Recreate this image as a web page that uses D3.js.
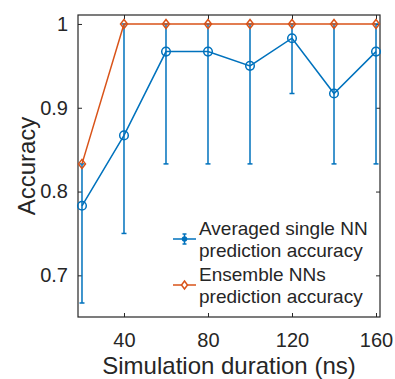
<!DOCTYPE html>
<html>
<head>
<meta charset="utf-8">
<script src="https://cdn.jsdelivr.net/npm/d3@7"></script>
<style>
  body { margin: 0; background: #fff; }
  svg text { font-family: "Liberation Sans", Arial, Helvetica, sans-serif; fill: #262626; }
</style>
</head>
<body>
<svg width="395" height="379"></svg>
<script>
// simulation durations (ns)
const durations = [20, 40, 60, 80, 100, 120, 140, 160];
// averaged single NN accuracy with its error range
const singleMean = [0.783, 0.867, 0.967, 0.967, 0.950, 0.983, 0.917, 0.967];
const singleLow = [0.667, 0.750, 0.833, 0.833, 0.833, 0.917, 0.833, 0.833];
const singleHigh = [0.833, 1.0, 1.0, 1.0, 1.0, 1.0, 1.0, 1.0];
// ensemble NNs accuracy
const ensembleAcc = [0.833, 1.0, 1.0, 1.0, 1.0, 1.0, 1.0, 1.0];
const xTicks = [40, 80, 120, 160];
const yTicks = [0.7, 0.8, 0.9, 1];
const legendLabels = [["Averaged single NN", "prediction accuracy"], ["Ensemble NNs", "prediction accuracy"]];

const blue = "#0072BD", orange = "#D95319", axisColor = "#262626";
const box = {left: 78, right: 380, top: 15, bottom: 317};

let svg = d3.select("svg");
let x = d3.scaleLinear().domain([18.1, 161.9]).range([box.left, box.right]);
let y = d3.scaleLinear().domain([0.6503, 1.0107]).range([box.bottom, box.top]);

// axes (inward ticks, box on)
let xAxis = svg.append("g")
    .attr("transform", "translate(0," + box.bottom + ")")
    .call(d3.axisBottom(x).tickValues(xTicks).tickSize(-4).tickPadding(18).tickFormat(d3.format("d")));
let yAxis = svg.append("g")
    .attr("transform", "translate(" + box.left + ",0)")
    .call(d3.axisLeft(y).tickValues(yTicks).tickSize(-4).tickPadding(10).tickFormat(d => d === 1 ? "1" : d3.format(".1f")(d)));
let xTop = svg.append("g")
    .attr("transform", "translate(0," + box.top + ")")
    .call(d3.axisTop(x).tickValues(xTicks).tickSize(-4).tickFormat(""));
let yRight = svg.append("g")
    .attr("transform", "translate(" + box.right + ",0)")
    .call(d3.axisRight(y).tickValues(yTicks).tickSize(-4).tickFormat(""));

[xAxis, yAxis, xTop, yRight].forEach(function (g) {
    g.select(".domain").attr("stroke", axisColor).attr("stroke-width", 1.2)
        .attr("d", null);
    g.selectAll(".tick line").attr("stroke", axisColor).attr("stroke-width", 1);
    g.selectAll(".tick text").style("font-size", "20px").attr("fill", axisColor);
});
xAxis.selectAll(".tick text").attr("dy", "0.71em").attr("y", 16);

// frame
svg.append("rect")
    .attr("x", box.left).attr("y", box.top)
    .attr("width", box.right - box.left).attr("height", box.bottom - box.top)
    .attr("fill", "none").attr("stroke", axisColor).attr("stroke-width", 1.2);

let plot = svg.append("g");

// blue error bars
let idx = d3.range(durations.length);
let capW = 2.5;
let bars = plot.append("g").attr("stroke", blue).attr("stroke-width", 1.5).attr("fill", "none");
bars.selectAll("line.bar").data(idx).join("line")
    .attr("class", "bar")
    .attr("x1", i => x(durations[i])).attr("x2", i => x(durations[i]))
    .attr("y1", i => y(singleLow[i])).attr("y2", i => y(singleHigh[i]));
bars.selectAll("line.capLow").data(idx).join("line")
    .attr("class", "capLow")
    .attr("x1", i => x(durations[i]) - capW).attr("x2", i => x(durations[i]) + capW)
    .attr("y1", i => y(singleLow[i])).attr("y2", i => y(singleLow[i]));
bars.selectAll("line.capHigh").data(idx).join("line")
    .attr("class", "capHigh")
    .attr("x1", i => x(durations[i]) - capW).attr("x2", i => x(durations[i]) + capW)
    .attr("y1", i => y(singleHigh[i])).attr("y2", i => y(singleHigh[i]));

// blue mean line and circles
let line = d3.line().x(d => x(d[0])).y(d => y(d[1]));
plot.append("path")
    .datum(d3.zip(durations, singleMean))
    .attr("d", line).attr("fill", "none").attr("stroke", blue).attr("stroke-width", 1.5);
plot.selectAll("circle.mean").data(d3.zip(durations, singleMean)).join("circle")
    .attr("class", "mean")
    .attr("cx", d => x(d[0])).attr("cy", d => y(d[1])).attr("r", 4.3)
    .attr("fill", "none").attr("stroke", blue).attr("stroke-width", 1.5);

// orange ensemble line and diamonds
function diamond(cx, cy, w, h) {
    return "M" + cx + "," + (cy - h) + "L" + (cx + w) + "," + cy + "L" + cx + "," + (cy + h) + "L" + (cx - w) + "," + cy + "Z";
}
plot.append("path")
    .datum(d3.zip(durations, ensembleAcc))
    .attr("d", line).attr("fill", "none").attr("stroke", orange).attr("stroke-width", 1.5);
plot.selectAll("path.dia").data(d3.zip(durations, ensembleAcc)).join("path")
    .attr("class", "dia")
    .attr("d", d => diamond(x(d[0]), y(d[1]), 3.5, 4.5))
    .attr("fill", "none").attr("stroke", orange).attr("stroke-width", 1.5);

// legend
let legend = svg.append("g");
let lx0 = 173, lx1 = 196, lxm = 184.5;
let rowY = [239, 285];
legend.append("line").attr("x1", lx0).attr("x2", lx1).attr("y1", rowY[0]).attr("y2", rowY[0])
    .attr("stroke", blue).attr("stroke-width", 1.5);
legend.append("line").attr("x1", lxm).attr("x2", lxm).attr("y1", rowY[0] - 5).attr("y2", rowY[0] + 5)
    .attr("stroke", blue).attr("stroke-width", 1.5);
[-5, 5].forEach(function (o) {
    legend.append("line").attr("x1", lxm - 2).attr("x2", lxm + 2).attr("y1", rowY[0] + o).attr("y2", rowY[0] + o)
        .attr("stroke", blue).attr("stroke-width", 1.5);
});
legend.append("circle").attr("cx", lxm).attr("cy", rowY[0]).attr("r", 2)
    .attr("fill", blue).attr("stroke", blue).attr("stroke-width", 1.5);
legend.append("line").attr("x1", lx0).attr("x2", lx1).attr("y1", rowY[1]).attr("y2", rowY[1])
    .attr("stroke", orange).attr("stroke-width", 1.5);
legend.append("path").attr("d", diamond(lxm, rowY[1], 3, 4))
    .attr("fill", "#fff").attr("stroke", orange).attr("stroke-width", 1.5);

legendLabels.forEach(function (lines, k) {
    let t = legend.append("text")
        .attr("x", 199).attr("y", rowY[k] - 4)
        .style("font-size", "19px");
    lines.forEach(function (s, j) {
        t.append("tspan").attr("x", 199).attr("dy", j === 0 ? 0 : 22).text(s);
    });
});

// axis labels
svg.append("text")
    .attr("x", (box.left + box.right) / 2).attr("y", 374)
    .attr("text-anchor", "middle").style("font-size", "24px")
    .text("Simulation duration (ns)");
svg.append("text")
    .attr("transform", "translate(35," + ((box.top + box.bottom) / 2) + ") rotate(-90)")
    .attr("text-anchor", "middle").style("font-size", "24px")
    .text("Accuracy");
</script>
</body>
</html>
